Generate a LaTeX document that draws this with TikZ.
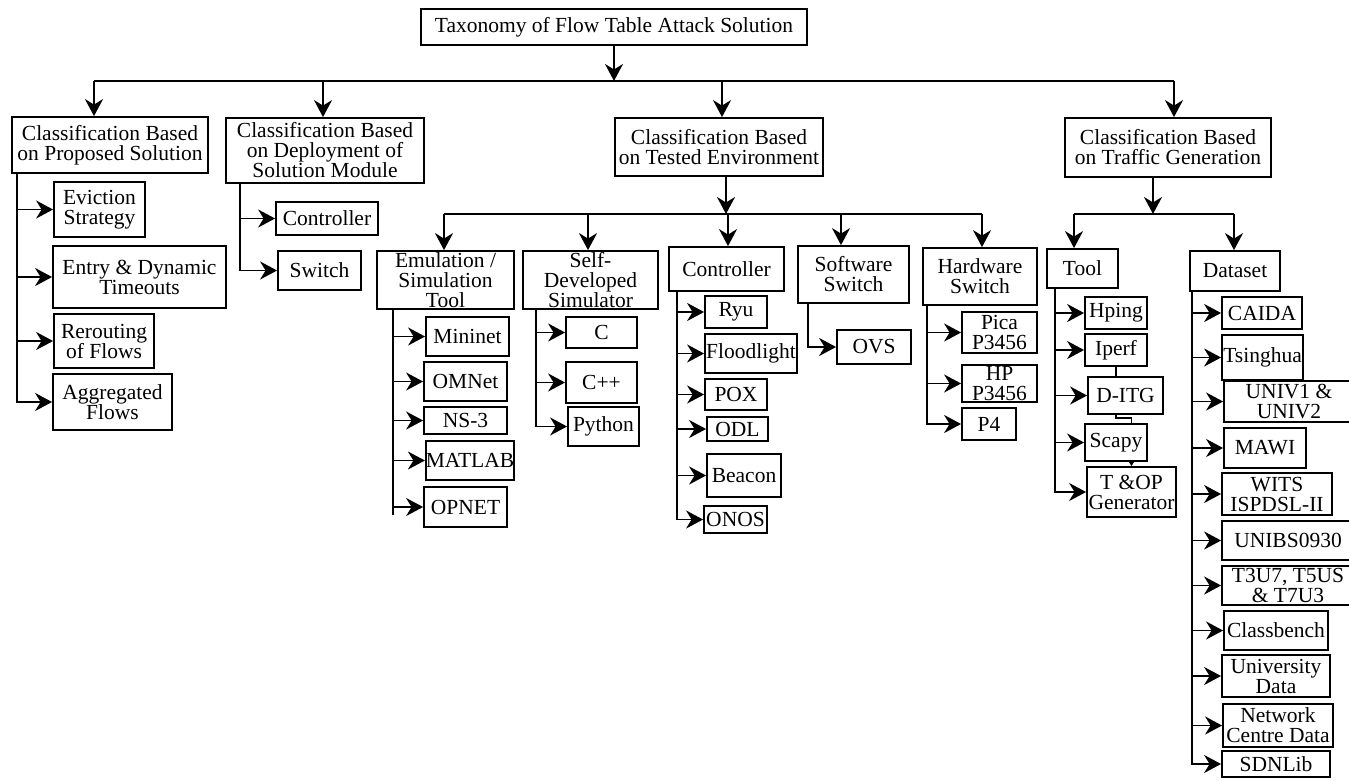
\documentclass[tikz,border=0pt]{standalone}
\usepackage{fontspec}
\setmainfont{Liberation Serif}
\usetikzlibrary{arrows.meta}
\tikzset{
  box/.style={draw, line width=1.8pt, inner sep=0pt, align=center, font=\fontsize{21.5}{20}\selectfont},
  link/.style={line width=1.8pt},
  thinlink/.style={line width=1.2pt},
  arr/.style={line width=1.8pt, -{Stealth[length=17pt,width=18pt,inset=5.5pt]}},
  smallarr/.style={line width=1.2pt, -{Stealth[length=5pt,width=6pt,inset=1.5pt]}},
}
\newcommand{\bx}[6]{\node[box, minimum width={(#4-#2)*1pt}, minimum height={(#5-#3)*1pt}] (#1) at ({(#2+#4)/2},{(#3+#5)/2}) {#6};}
\begin{document}
\begin{tikzpicture}[x=1pt,y=-1pt]
\useasboundingbox (0,0) rectangle (1349,780);
\clip (0,0) rectangle (1349,780);
\fill[white] (0,0) rectangle (1349,780);

% ---------- boxes ----------
\bx{title}{421}{9}{807}{45}{Taxonomy of Flow Table Attack Solution}
\bx{A}{12}{117}{208}{173}{Classification Based\\on Proposed Solution}
\bx{B}{226}{118}{424}{183}{Classification Based\\on Deployment of\\Solution Module}
\bx{C}{615}{118}{823}{176}{Classification Based\\on Tested Environment}
\bx{D}{1065}{118}{1271}{177}{Classification Based\\on Traffic Generation}

\bx{a1}{54}{182}{145}{237}{Eviction\\Strategy}
\bx{a2}{53}{246}{226}{308}{Entry \& Dynamic\\Timeouts}
\bx{a3}{54}{314}{154}{368}{Rerouting\\of Flows}
\bx{a4}{53}{374}{172}{430}{Aggregated\\Flows}

\bx{b1}{276}{202}{378}{235}{Controller}
\bx{b2}{278}{251}{361}{290}{Switch}

\bx{c1}{377}{251}{514}{309}{Emulation /\\Simulation\\Tool}
\bx{c2}{523}{251}{658}{309}{Self-\\Developed\\Simulator}
\bx{c3}{669}{247}{784}{291}{Controller}
\bx{c4}{798}{246}{909}{303}{Software\\Switch}
\bx{c5}{923}{248}{1037}{305}{Hardware\\Switch}

\bx{mininet}{426}{317}{509}{356}{Mininet}
\bx{omnet}{424}{362}{507}{401}{OMNet}
\bx{ns3}{424}{407}{507}{434}{NS-3}
\bx{matlab}{426}{441}{514}{480}{MATLAB}
\bx{opnet}{424}{487}{507}{527}{OPNET}

\bx{cl}{566}{317}{637}{348}{C}
\bx{cpp}{566}{362}{637}{403}{C++}
\bx{python}{568}{407}{639}{446}{Python}

\bx{ryu}{705}{296}{767}{328}{Ryu}
\bx{flood}{705}{334}{797}{373}{Floodlight}
\bx{pox}{705}{379}{767}{410}{POX}
\bx{odl}{707}{417}{768}{441}{ODL}
\bx{beacon}{707}{454}{781}{497}{Beacon}
\bx{onos}{704}{506}{767}{533}{ONOS}

\bx{ovs}{837}{330}{911}{364}{OVS}

\bx{pica}{962}{312}{1037}{353}{Pica\\P3456}
\bx{hp}{962}{365}{1037}{402}{HP\\P3456}
\bx{pfour}{962}{408}{1016}{440}{P4}

\bx{d1}{1047}{249}{1118}{288}{Tool}
\bx{d2}{1190}{251}{1280}{291}{Dataset}

\bx{hping}{1085}{297}{1147}{329}{Hping}
\bx{iperf}{1085}{334}{1147}{366}{Iperf}
\bx{ditg}{1088}{377}{1163}{414}{D-ITG}
\bx{scapy}{1085}{424}{1147}{461}{Scapy}
\bx{tgen}{1087}{467}{1176}{517}{T \&OP\\Generator}

\bx{caida}{1222}{297}{1302}{329}{CAIDA}
\bx{tsing}{1222}{335}{1303}{380}{Tsinghua}
\bx{univ}{1224}{381}{1354}{422}{UNIV1 \&\\UNIV2}
\bx{mawi}{1224}{428}{1306}{468}{MAWI}
\bx{wits}{1222}{473}{1332}{515}{WITS\\ISPDSL-II}
\bx{unibs}{1222}{521}{1354}{560}{UNIBS0930}
\bx{tuus}{1222}{566}{1354}{605}{T3U7, T5US\\\& T7U3}
\bx{classb}{1224}{611}{1328}{650}{Classbench}
\bx{unidata}{1222}{655}{1330}{697}{University\\Data}
\bx{netc}{1223}{704}{1333}{747}{Network\\Centre Data}
\bx{sdnlib}{1222}{751}{1330}{777}{SDNLib}

% ---------- coordinates ----------
\coordinate (bus0L) at (94,81);
\coordinate (bus0R) at (1174,81);
\coordinate (pB) at (323,81);
\coordinate (pC) at (722,81);

\coordinate (busCL) at (444,214);
\coordinate (busCR) at (982,214);
\coordinate (qC) at (726,214);
\coordinate (qc2) at (588,214);
\coordinate (qc3) at (728,214);
\coordinate (qc4) at (841,214);

\coordinate (busDL) at (1074,214);
\coordinate (busDR) at (1234,214);
\coordinate (qD) at (1153,214);

\coordinate (tA) at (17,0);
\coordinate (tB) at (240,0);
\coordinate (tC1end) at (393,515);
\coordinate (tC2) at (536,0);
\coordinate (tC3) at (677,0);
\coordinate (tC4) at (808,0);
\coordinate (tC5) at (927,0);
\coordinate (tD1) at (1055,0);
\coordinate (tD2) at (1192,0);

% ---------- level 1 ----------
\draw[link] (bus0L) -- (bus0R);
\draw[arr] (title.south) -- (title.south |- bus0L);
\draw[arr] (bus0L) -- (bus0L |- A.north);
\draw[arr] (pB) -- (pB |- B.north);
\draw[arr] (pC) -- (pC |- C.north);
\draw[arr] (bus0R) -- (bus0R |- D.north);

% ---------- group A ----------
\draw[arr] (tA |- a1.west) -- (a1.west);
\draw[arr] (tA |- a2.west) -- (a2.west);
\draw[arr] (tA |- a3.west) -- (a3.west);
\draw[arr] (A.south -| tA) |- (a4.west);

% ---------- group B ----------
\draw[arr] (tB |- b1.west) -- (b1.west);
\draw[arr] (B.south -| tB) |- (b2.west);

% ---------- group C ----------
\draw[arr] (qC |- C.south) -- (qC);
\draw[link] (busCL) -- (busCR);
\draw[arr] (busCL) -- (busCL |- c1.north);
\draw[arr] (qc2) -- (qc2 |- c2.north);
\draw[arr] (qc3) -- (qc3 |- c3.north);
\draw[arr] (qc4) -- (qc4 |- c4.north);
\draw[arr] (busCR) -- (busCR |- c5.north);

\draw[link] (c1.south -| tC1end) -- (tC1end);
\draw[arr] (tC1end |- mininet.west) -- (mininet.west);
\draw[arr] (tC1end |- omnet.west) -- (omnet.west);
\draw[arr] (tC1end |- ns3.west) -- (ns3.west);
\draw[arr] (tC1end |- matlab.west) -- (matlab.west);
\draw[arr] (tC1end |- opnet.west) -- (opnet.west);

\draw[arr] (tC2 |- cl.west) -- (cl.west);
\draw[arr] (tC2 |- cpp.west) -- (cpp.west);
\draw[arr] (c2.south -| tC2) |- (python.west);

\draw[arr] (tC3 |- ryu.west) -- (ryu.west);
\draw[arr] (tC3 |- flood.west) -- (flood.west);
\draw[arr] (tC3 |- pox.west) -- (pox.west);
\draw[arr] (tC3 |- odl.west) -- (odl.west);
\draw[arr] (tC3 |- beacon.west) -- (beacon.west);
\draw[arr] (c3.south -| tC3) |- (onos.west);

\draw[arr] (c4.south -| tC4) |- (ovs.west);

\draw[arr] (tC5 |- pica.west) -- (pica.west);
\draw[arr] (tC5 |- hp.west) -- (hp.west);
\draw[arr] (c5.south -| tC5) |- (pfour.west);

% ---------- group D ----------
\draw[arr] (qD |- D.south) -- (qD);
\draw[link] (busDL) -- (busDR);
\draw[arr] (busDL) -- (busDL |- d1.north);
\draw[arr] (busDR) -- (busDR |- d2.north);

\draw[arr] (tD1 |- hping.west) -- (hping.west);
\draw[arr] (tD1 |- iperf.west) -- (iperf.west);
\draw[arr] (tD1 |- ditg.west) -- (ditg.west);
\draw[arr] (tD1 |- scapy.west) -- (scapy.west);
\draw[arr] (d1.south -| tD1) |- (tgen.west);

\draw[thinlink] (iperf.south) -- (iperf.south |- ditg.north);
\draw[thinlink] (ditg.south -| iperf.south) -- ++(0,3) -| (scapy.north -| tgen.north);
\draw[smallarr] (tgen.north |- scapy.south) -- (tgen.north);

\draw[arr] (tD2 |- caida.west) -- (caida.west);
\draw[arr] (tD2 |- tsing.west) -- (tsing.west);
\draw[arr] (tD2 |- univ.west) -- (univ.west);
\draw[arr] (tD2 |- mawi.west) -- (mawi.west);
\draw[arr] (tD2 |- wits.west) -- (wits.west);
\draw[arr] (tD2 |- unibs.west) -- (unibs.west);
\draw[arr] (tD2 |- tuus.west) -- (tuus.west);
\draw[arr] (tD2 |- classb.west) -- (classb.west);
\draw[arr] (tD2 |- unidata.west) -- (unidata.west);
\draw[arr] (tD2 |- netc.west) -- (netc.west);
\draw[arr] (d2.south -| tD2) |- (sdnlib.west);
\end{tikzpicture}
\end{document}
